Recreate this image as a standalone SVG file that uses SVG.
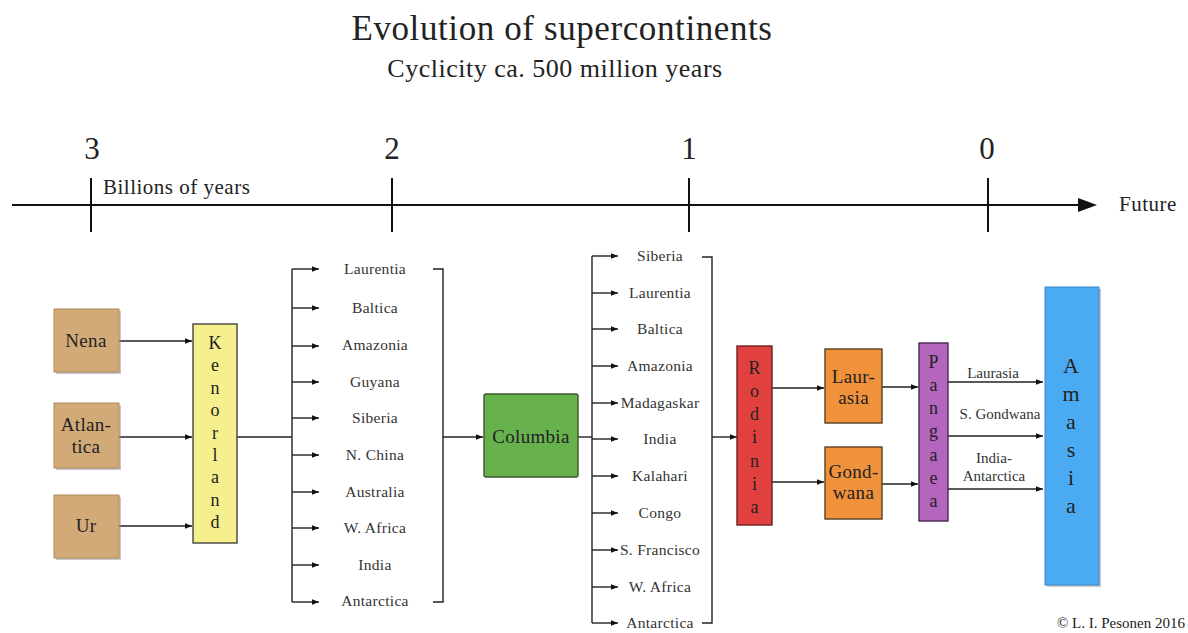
<svg xmlns="http://www.w3.org/2000/svg" width="1188" height="633" viewBox="0 0 1188 633">
<defs>
<marker id="ah" viewBox="0 0 10 10" refX="10" refY="5" markerWidth="10" markerHeight="7" markerUnits="userSpaceOnUse" orient="auto"><path d="M0,1 L10,5 L0,9 z" fill="#111"/></marker>
</defs>
<style>
text{font-family:"Liberation Serif","Times New Roman",serif;fill:#222}
.title{font-size:35px;letter-spacing:0.6px;text-anchor:middle}
.sub{font-size:26px;letter-spacing:0.5px;text-anchor:middle}
.num{font-size:31px;text-anchor:middle}
.axl{font-size:21px;letter-spacing:0.5px}
.it{font-size:15.5px;letter-spacing:0.3px;text-anchor:middle;fill:#333}
.lbl{font-size:15px;text-anchor:middle;fill:#333}
.bx{font-size:19px;letter-spacing:0.3px;text-anchor:middle}
.vl{font-size:18px;text-anchor:middle}
.c{stroke:#222;stroke-width:1.4;fill:none}
.ca{stroke:#222;stroke-width:1.4;fill:none;marker-end:url(#ah)}
.ax{stroke:#111;stroke-width:2;fill:none}
.sh{fill:#888;opacity:0.45}
</style>
<rect width="1188" height="633" fill="#fff"/>
<text class="title" x="562" y="40">Evolution of supercontinents</text>
<text class="sub" x="555" y="77">Cyclicity ca. 500 million years</text>
<g id="timeline">
<line class="ax" x1="12" y1="205" x2="1082" y2="205"/>
<polygon points="1078,198 1097,205 1078,212" fill="#111"/>
<line class="ax" x1="91" y1="178" x2="91" y2="232"/>
<line class="ax" x1="392" y1="178" x2="392" y2="232"/>
<line class="ax" x1="689" y1="178" x2="689" y2="232"/>
<line class="ax" x1="988" y1="178" x2="988" y2="232"/>
<text class="num" x="92" y="159">3</text>
<text class="num" x="392" y="159">2</text>
<text class="num" x="689" y="159">1</text>
<text class="num" x="987" y="159">0</text>
<text class="axl" x="103" y="194">Billions of years</text>
<text class="axl" x="1119" y="211">Future</text>
</g>
<g id="connectors">
<line class="ca" x1="119" y1="341" x2="192" y2="341"/>
<line class="ca" x1="119" y1="437" x2="192" y2="437"/>
<line class="ca" x1="119" y1="526" x2="192" y2="526"/>
<line class="c" x1="237" y1="437" x2="292" y2="437"/>
<line class="c" x1="292" y1="269" x2="292" y2="602"/>
<line class="ca" x1="292" y1="269" x2="319" y2="269"/>
<line class="ca" x1="292" y1="308" x2="319" y2="308"/>
<line class="ca" x1="292" y1="346" x2="319" y2="346"/>
<line class="ca" x1="292" y1="382" x2="319" y2="382"/>
<line class="ca" x1="292" y1="418" x2="319" y2="418"/>
<line class="ca" x1="292" y1="455" x2="319" y2="455"/>
<line class="ca" x1="292" y1="492" x2="319" y2="492"/>
<line class="ca" x1="292" y1="528" x2="319" y2="528"/>
<line class="ca" x1="292" y1="565" x2="319" y2="565"/>
<line class="ca" x1="292" y1="602" x2="319" y2="602"/>
<polyline class="c" points="433,269 443,269 443,602 433,602"/>
<line class="ca" x1="443" y1="437" x2="483" y2="437"/>
<line class="c" x1="578" y1="437" x2="592" y2="437"/>
<line class="c" x1="592" y1="256" x2="592" y2="623"/>
<line class="ca" x1="592" y1="256" x2="618" y2="256"/>
<line class="ca" x1="592" y1="293" x2="618" y2="293"/>
<line class="ca" x1="592" y1="329" x2="618" y2="329"/>
<line class="ca" x1="592" y1="366" x2="618" y2="366"/>
<line class="ca" x1="592" y1="403" x2="618" y2="403"/>
<line class="ca" x1="592" y1="439" x2="618" y2="439"/>
<line class="ca" x1="592" y1="476" x2="618" y2="476"/>
<line class="ca" x1="592" y1="513" x2="618" y2="513"/>
<line class="ca" x1="592" y1="550" x2="618" y2="550"/>
<line class="ca" x1="592" y1="587" x2="618" y2="587"/>
<line class="ca" x1="592" y1="623" x2="618" y2="623"/>
<polyline class="c" points="702,257 712,257 712,623 702,623"/>
<line class="ca" x1="712" y1="437" x2="737" y2="437"/>
<line class="ca" x1="772" y1="388" x2="824" y2="388"/>
<line class="ca" x1="772" y1="482" x2="824" y2="482"/>
<line class="ca" x1="882" y1="387" x2="918" y2="387"/>
<line class="ca" x1="882" y1="484" x2="918" y2="484"/>
<line class="ca" x1="948" y1="382" x2="1043" y2="382"/>
<line class="ca" x1="948" y1="436" x2="1043" y2="436"/>
<line class="ca" x1="948" y1="489" x2="1043" y2="489"/>
</g>
<g id="list1">
<text class="it" x="375" y="274">Laurentia</text>
<text class="it" x="375" y="313">Baltica</text>
<text class="it" x="375" y="350">Amazonia</text>
<text class="it" x="375" y="387">Guyana</text>
<text class="it" x="375" y="423">Siberia</text>
<text class="it" x="375" y="460">N. China</text>
<text class="it" x="375" y="497">Australia</text>
<text class="it" x="375" y="533">W. Africa</text>
<text class="it" x="375" y="570">India</text>
<text class="it" x="375" y="606">Antarctica</text>
</g>
<g id="list2">
<text class="it" x="660" y="261">Siberia</text>
<text class="it" x="660" y="298">Laurentia</text>
<text class="it" x="660" y="334">Baltica</text>
<text class="it" x="660" y="371">Amazonia</text>
<text class="it" x="660" y="408">Madagaskar</text>
<text class="it" x="660" y="444">India</text>
<text class="it" x="660" y="481">Kalahari</text>
<text class="it" x="660" y="518">Congo</text>
<text class="it" x="660" y="555">S. Francisco</text>
<text class="it" x="660" y="592">W. Africa</text>
<text class="it" x="660" y="628">Antarctica</text>
</g>
<g id="pangaea-labels">
<text class="lbl" x="993" y="378">Laurasia</text>
<text class="lbl" x="1000" y="419">S. Gondwana</text>
<text class="lbl" x="994" y="463">India-</text>
<text class="lbl" x="994" y="481">Antarctica</text>
</g>
<g id="nena">
<rect class="sh" x="56" y="311" width="65" height="63"/>
<rect x="54" y="309" width="65" height="63" fill="#d2aa78" stroke="#b08a5a" stroke-width="1"/>
<text class="bx" x="86" y="347" fill="#3a2a14">Nena</text>
</g>
<g id="atlantica">
<rect class="sh" x="56" y="405" width="65" height="65"/>
<rect x="54" y="403" width="65" height="65" fill="#d2aa78" stroke="#b08a5a" stroke-width="1"/>
<text class="bx" x="86" y="431" fill="#3a2a14">Atlan-</text>
<text class="bx" x="86" y="453" fill="#3a2a14">tica</text>
</g>
<g id="ur">
<rect class="sh" x="56" y="497" width="65" height="63"/>
<rect x="54" y="495" width="65" height="63" fill="#d2aa78" stroke="#b08a5a" stroke-width="1"/>
<text class="bx" x="86" y="532" fill="#3a2a14">Ur</text>
</g>
<g id="kenorland">
<rect x="193" y="324" width="44" height="219" fill="#f5ef8e" stroke="#444" stroke-width="1.4"/>
<text class="vl" x="215" y="349" fill="#4a3a14">K</text>
<text class="vl" x="215" y="371" fill="#4a3a14">e</text>
<text class="vl" x="215" y="394" fill="#4a3a14">n</text>
<text class="vl" x="215" y="416" fill="#4a3a14">o</text>
<text class="vl" x="215" y="439" fill="#4a3a14">r</text>
<text class="vl" x="215" y="461" fill="#4a3a14">l</text>
<text class="vl" x="215" y="483" fill="#4a3a14">a</text>
<text class="vl" x="215" y="506" fill="#4a3a14">n</text>
<text class="vl" x="215" y="528" fill="#4a3a14">d</text>
</g>
<g id="columbia">
<rect x="484" y="394" width="94" height="83" fill="#68b24e" stroke="#3a5a2a" stroke-width="1.4" rx="2"/>
<text class="bx" x="531" y="443" fill="#1c3a12">Columbia</text>
</g>
<g id="rodinia">
<rect x="737" y="346" width="35" height="179" fill="#e0413f" stroke="#6a2020" stroke-width="1.4"/>
<text class="vl" x="754.5" y="374" fill="#5a1010">R</text>
<text class="vl" x="754.5" y="397" fill="#5a1010">o</text>
<text class="vl" x="754.5" y="420" fill="#5a1010">d</text>
<text class="vl" x="754.5" y="443" fill="#5a1010">i</text>
<text class="vl" x="754.5" y="467" fill="#5a1010">n</text>
<text class="vl" x="754.5" y="490" fill="#5a1010">i</text>
<text class="vl" x="754.5" y="513" fill="#5a1010">a</text>
</g>
<g id="laurasia">
<rect x="825" y="349" width="57" height="74" fill="#f0913c" stroke="#5a4020" stroke-width="1.4"/>
<text class="bx" x="853.5" y="383" fill="#4a2a0a">Laur-</text>
<text class="bx" x="853.5" y="404" fill="#4a2a0a">asia</text>
</g>
<g id="gondwana">
<rect x="825" y="447" width="57" height="72" fill="#f0913c" stroke="#5a4020" stroke-width="1.4"/>
<text class="bx" x="853.5" y="478" fill="#4a2a0a">Gond-</text>
<text class="bx" x="853.5" y="499" fill="#4a2a0a">wana</text>
</g>
<g id="pangaea">
<rect x="919" y="343" width="29" height="178" fill="#b466be" stroke="#4a2a50" stroke-width="1.4"/>
<text class="vl" x="933.5" y="368" fill="#4a1a50">P</text>
<text class="vl" x="933.5" y="391" fill="#4a1a50">a</text>
<text class="vl" x="933.5" y="414" fill="#4a1a50">n</text>
<text class="vl" x="933.5" y="437" fill="#4a1a50">g</text>
<text class="vl" x="933.5" y="461" fill="#4a1a50">a</text>
<text class="vl" x="933.5" y="484" fill="#4a1a50">e</text>
<text class="vl" x="933.5" y="507" fill="#4a1a50">a</text>
</g>
<g id="amasia">
<rect class="sh" x="1047" y="289" width="54" height="298"/>
<rect x="1045" y="287" width="54" height="298" fill="#4aabf2" stroke="#3a88c8" stroke-width="1"/>
<text x="1071" y="373" font-size="22" text-anchor="middle" fill="#142a6a">A</text>
<text x="1071" y="401" font-size="22" text-anchor="middle" fill="#142a6a">m</text>
<text x="1071" y="429" font-size="22" text-anchor="middle" fill="#142a6a">a</text>
<text x="1071" y="457" font-size="22" text-anchor="middle" fill="#142a6a">s</text>
<text x="1071" y="485" font-size="22" text-anchor="middle" fill="#142a6a">i</text>
<text x="1071" y="513" font-size="22" text-anchor="middle" fill="#142a6a">a</text>
</g>
<text x="1185" y="628" font-size="15" text-anchor="end" fill="#222">© L. I. Pesonen 2016</text>
</svg>
